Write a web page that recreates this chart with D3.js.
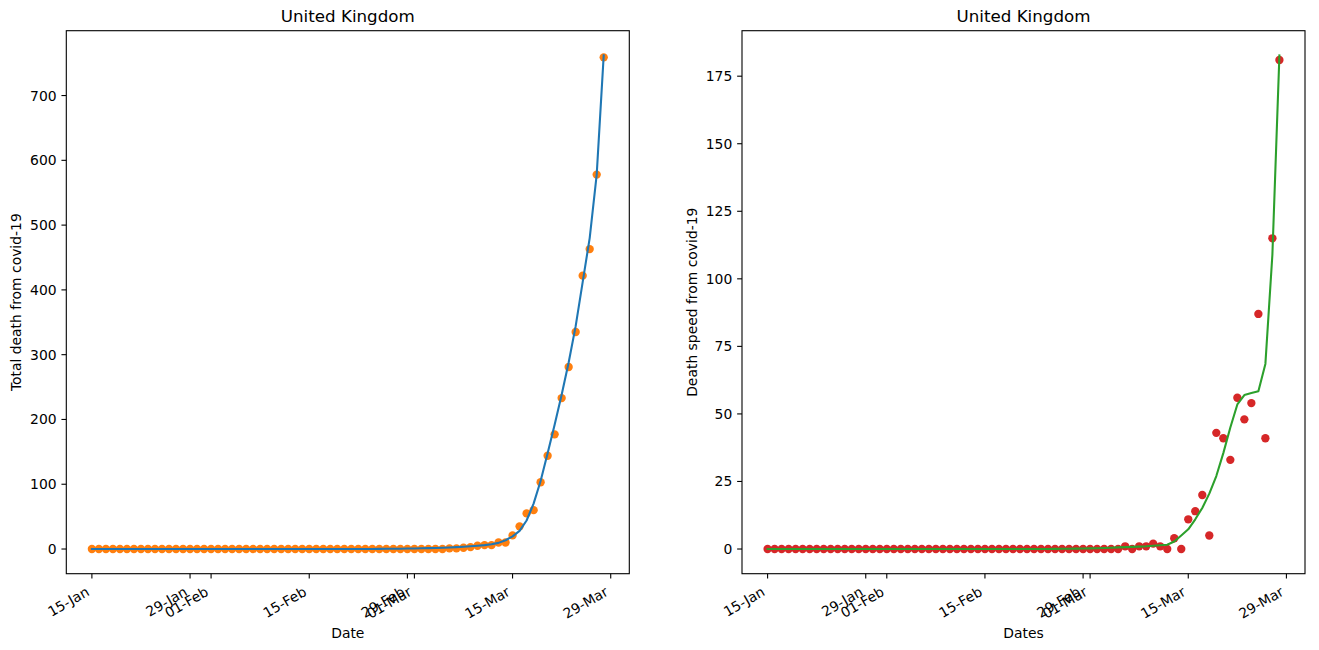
<!DOCTYPE html>
<html>
<head>
<meta charset="utf-8">
<script src="https://cdn.jsdelivr.net/npm/d3@7.9.0/dist/d3.min.js"></script>
<style>
  body { margin: 0; background: #fff; }
  svg { display: block; font-family: "DejaVu Sans", sans-serif; }
</style>
</head>
<body>
<svg id="chart" width="1319" height="650"></svg>
<script>
// daily points, 15-Jan to 28-Mar 2020
const startDate = new Date(2020, 0, 15);
const endDate = new Date(2020, 2, 28);
const dates = d3.timeDay.range(startDate, d3.timeDay.offset(endDate, 1));

const totalDeaths = [
  0, 0, 0, 0, 0, 0, 0, 0, 0, 0, 0, 0, 0, 0, 0, 0, 0, 0, 0, 0,
  0, 0, 0, 0, 0, 0, 0, 0, 0, 0, 0, 0, 0, 0, 0, 0, 0, 0, 0, 0,
  0, 0, 0, 0, 0, 0, 0, 0, 0, 0, 0,
  1, 1, 2, 3, 5, 6, 6, 10, 10, 21, 35, 55, 60, 103, 144, 177, 233, 281, 335, 422, 463, 578, 759
];

const totalFit = [
  0, 0, 0, 0, 0, 0, 0, 0, 0, 0, 0, 0, 0, 0, 0, 0, 0, 0, 0, 0,
  0, 0, 0, 0, 0, 0, 0, 0, 0, 0, 0, 0, 0, 0, 0, 0, 0, 0, 0, 0, 0,
  0.2, 0.3, 0.4, 0.5, 0.7, 0.9, 1.1, 1.4, 1.7, 2.0,
  2.4, 2.9, 3.5, 4.2, 5, 6, 7.3, 9.5, 13.5,
  19.5, 28, 44, 70, 105, 148, 192, 238, 288, 344, 412, 480, 578, 762
];

const deathSpeed = [
  0, 0, 0, 0, 0, 0, 0, 0, 0, 0, 0, 0, 0, 0, 0, 0, 0, 0, 0, 0,
  0, 0, 0, 0, 0, 0, 0, 0, 0, 0, 0, 0, 0, 0, 0, 0, 0, 0, 0, 0,
  0, 0, 0, 0, 0, 0, 0, 0, 0, 0, 0,
  1, 0, 1, 1, 2, 1, 0, 4, 0, 11, 14, 20, 5, 43, 41, 33, 56, 48, 54, 87, 41, 115, 181
];

const speedFit = [
  0, 0, 0, 0, 0, 0, 0, 0, 0, 0, 0, 0, 0, 0, 0, 0, 0, 0, 0, 0,
  0, 0, 0, 0, 0, 0, 0, 0, 0, 0, 0, 0, 0, 0, 0, 0, 0, 0, 0, 0, 0,
  0.05, 0.1, 0.1, 0.15, 0.2, 0.25, 0.3, 0.4, 0.5, 0.6,
  0.7, 0.8, 0.9, 1.0, 1.2, 1.4, 1.6, 2.8, 5,
  7.3, 11, 15.2, 20.5, 27, 35.5, 45, 53.5, 57, 57.7, 58.4, 68.5, 109, 182.7
];

const tickDays = [1, 15, 29];
const leftYTicks = [0, 100, 200, 300, 400, 500, 600, 700];
const rightYTicks = [0, 25, 50, 75, 100, 125, 150, 175];

const svg = d3.select('#chart');
svg.append('rect').attr('width', 1319).attr('height', 650).attr('fill', '#fff');

const fontSize = 13.9;
const tickLen = 4.86;
const tickPad = 4.86;

function drawPanel(p) {
    const g = svg.append('g');
    const top = 30.7, bottom = 573.7;

    // matplotlib style 5% margins
    const span = endDate - startDate;
    const x = d3.scaleTime()
        .domain([new Date(+startDate - span * 0.05), new Date(+endDate + span * 0.05)])
        .range([p.left, p.right]);

    const yExt = d3.extent(p.points.concat(p.fit));
    const yPad = (yExt[1] - yExt[0]) * 0.05;
    const y = d3.scaleLinear()
        .domain([yExt[0] - yPad, yExt[1] + yPad])
        .range([bottom, top]);

    // scatter first, fitted line on top
    g.selectAll('circle')
        .data(p.points)
        .enter()
        .append('circle')
        .attr('cx', (d, i) => x(dates[i]))
        .attr('cy', d => y(d))
        .attr('r', 4.17)
        .attr('fill', p.dotColor);

    const line = d3.line()
        .x((d, i) => x(dates[i]))
        .y(d => y(d));

    g.append('path')
        .datum(p.fit)
        .attr('d', line)
        .attr('fill', 'none')
        .attr('stroke', p.lineColor)
        .attr('stroke-width', 2.08)
        .attr('stroke-linejoin', 'round')
        .attr('stroke-linecap', 'square');

    // frame
    g.append('rect')
        .attr('x', p.left)
        .attr('y', top)
        .attr('width', p.right - p.left)
        .attr('height', bottom - top)
        .attr('fill', 'none')
        .attr('stroke', '#000')
        .attr('stroke-width', 1.1);

    // x ticks on the 1st, 15th and 29th
    const [d0, d1] = x.domain();
    const xTicks = d3.timeDay.range(d3.timeDay.ceil(d0), d1)
        .filter(d => tickDays.includes(d.getDate()));
    const fmt = d3.timeFormat('%d-%b');

    const xt = g.selectAll('.xtick')
        .data(xTicks)
        .enter()
        .append('g')
        .attr('class', 'xtick');

    xt.append('line')
        .attr('x1', d => x(d)).attr('x2', d => x(d))
        .attr('y1', bottom).attr('y2', bottom + tickLen)
        .attr('stroke', '#000')
        .attr('stroke-width', 1.1);

    xt.append('text')
        .attr('transform', d => `translate(${x(d) - 1.6},${bottom + tickLen + tickPad + 11.2}) rotate(-30)`)
        .attr('text-anchor', 'end')
        .style('font-size', fontSize + 'px')
        .text(d => fmt(d));

    const yt = g.selectAll('.ytick')
        .data(p.yTicks)
        .enter()
        .append('g')
        .attr('class', 'ytick');

    yt.append('line')
        .attr('x1', p.left - tickLen).attr('x2', p.left)
        .attr('y1', d => y(d)).attr('y2', d => y(d))
        .attr('stroke', '#000')
        .attr('stroke-width', 1.1);

    yt.append('text')
        .attr('x', p.left - tickLen - tickPad)
        .attr('y', d => y(d))
        .attr('dy', '0.36em')
        .attr('text-anchor', 'end')
        .style('font-size', fontSize + 'px')
        .text(d => d);

    const cx = (p.left + p.right) / 2;

    g.append('text')
        .attr('x', cx)
        .attr('y', 22)
        .attr('text-anchor', 'middle')
        .style('font-size', '16.7px')
        .text(p.title);

    g.append('text')
        .attr('x', cx)
        .attr('y', 638)
        .attr('text-anchor', 'middle')
        .style('font-size', fontSize + 'px')
        .text(p.xLabel);

    g.append('text')
        .attr('transform', `translate(${p.yLabelX},${(top + bottom) / 2}) rotate(-90)`)
        .attr('text-anchor', 'middle')
        .style('font-size', fontSize + 'px')
        .text(p.yLabel);
}

drawPanel({
    left: 66.3, right: 629.3,
    points: totalDeaths, fit: totalFit,
    dotColor: '#ff7f0e', lineColor: '#1f77b4',
    yTicks: leftYTicks,
    title: 'United Kingdom',
    xLabel: 'Date',
    yLabel: 'Total death from covid-19',
    yLabelX: 21
});

drawPanel({
    left: 742, right: 1305,
    points: deathSpeed, fit: speedFit,
    dotColor: '#d62728', lineColor: '#2ca02c',
    yTicks: rightYTicks,
    title: 'United Kingdom',
    xLabel: 'Dates',
    yLabel: 'Death speed from covid-19',
    yLabelX: 697
});
</script>
</body>
</html>
